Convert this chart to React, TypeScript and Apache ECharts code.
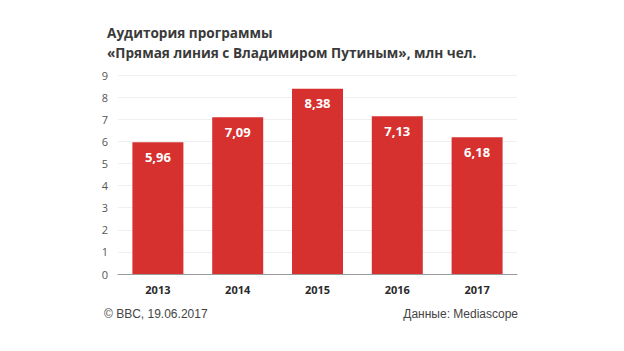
import React, { useEffect, useRef } from "react";
import * as echarts from "echarts";

const titleLines = ["Аудитория программы", "«Прямая линия с Владимиром Путиным», млн чел."];
const years = ["2013", "2014", "2015", "2016", "2017"];
const audience = [5.96, 7.09, 8.38, 7.13, 6.18];
const footerLeft = "© BBC, 19.06.2017";
const footerRight = "Данные: Mediascope";

export default function App() {
  const ref = useRef<HTMLDivElement>(null);
  useEffect(() => {
    if (!ref.current) return;
    const chart = echarts.init(ref.current, undefined, { renderer: "svg" });
    chart.setOption({
      animation: false,
      backgroundColor: "#ffffff",
      title: [
        {
          text: titleLines.join("\n"),
          left: 102,
          top: 17,
          textStyle: {
            fontFamily: "Open Sans",
            fontWeight: "bold",
            fontSize: 13.6,
            lineHeight: 20,
            color: "#3a3a3a",
          },
        },
      ],
      grid: { left: 118, right: 107, top: 75, bottom: 77 },
      xAxis: {
        type: "category",
        data: years,
        axisTick: { show: false },
        axisLine: { lineStyle: { color: "#9a9a9a" } },
        axisLabel: {
          margin: 10,
          fontFamily: "Open Sans",
          fontWeight: "bold",
          fontSize: 11,
          color: "#2a2a2a",
        },
      },
      yAxis: {
        type: "value",
        min: 0,
        max: 9,
        interval: 1,
        axisLine: { show: false },
        axisTick: { show: false },
        splitLine: { lineStyle: { color: "#efefef" } },
        axisLabel: {
          margin: 10,
          fontFamily: "Open Sans",
          fontSize: 11,
          color: "#555555",
        },
      },
      series: [
        {
          type: "bar",
          data: audience,
          barWidth: 51,
          itemStyle: { color: "#d6302f" },
          label: {
            show: true,
            position: "insideTop",
            distance: 8,
            formatter: (p: any) => String(p.value.toFixed(2)).replace(".", ","),
            fontFamily: "Open Sans",
            fontWeight: "bold",
            fontSize: 13,
            color: "#ffffff",
          },
        },
      ],
      graphic: [
        {
          type: "text",
          left: 104,
          top: 308,
          style: {
            text: footerLeft,
            font: "12px 'Liberation Sans', Arial, sans-serif",
            fill: "#444444",
          },
        },
        {
          type: "text",
          right: 106,
          top: 308,
          style: {
            text: footerRight,
            font: "12px 'Liberation Sans', Arial, sans-serif",
            fill: "#444444",
          },
        },
      ],
    });
    return () => chart.dispose();
  }, []);
  return <div ref={ref} style={{ width: 624, height: 351, position: "absolute", left: 0, top: 0 }} />;
}
